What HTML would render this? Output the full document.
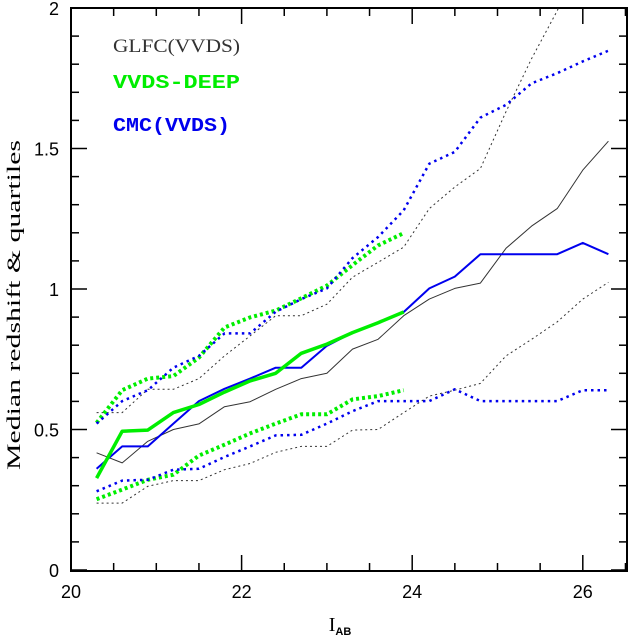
<!DOCTYPE html>
<html><head><meta charset="utf-8"><style>
html,body{margin:0;padding:0;background:#fff;}
svg{display:block;}
text{font-family:"Liberation Sans",sans-serif;}
</style></head><body>
<svg id="chart" width="636" height="638" viewBox="0 0 636 638">
<defs><clipPath id="plotclip"><rect x="71" y="8" width="556" height="563"/></clipPath></defs>
<g id="axes"></g>
<g id="series" clip-path="url(#plotclip)"></g>
<g>
<text x="113" y="52" font-size="19" fill="#333" textLength="127" lengthAdjust="spacingAndGlyphs" style="font-family:'Liberation Serif',serif">GLFC(VVDS)</text>
<text x="113" y="88" font-size="19" font-weight="bold" fill="#00ee00" textLength="127" lengthAdjust="spacingAndGlyphs" style="font-family:'Liberation Mono',monospace">VVDS-DEEP</text>
<text x="113" y="131" font-size="19" font-weight="bold" fill="#0000ee" textLength="117" lengthAdjust="spacingAndGlyphs" style="font-family:'Liberation Mono',monospace">CMC(VVDS)</text>
</g>
<text transform="translate(20,305) rotate(-90)" text-anchor="middle" font-size="19" textLength="330" lengthAdjust="spacingAndGlyphs" style="font-family:'Liberation Serif',serif">Median redshift &amp; quartiles</text>
<text x="340" y="631" text-anchor="middle" font-size="20" style="font-family:'Liberation Serif',serif">I<tspan font-size="11" font-weight="bold" dy="4" style="font-family:'Liberation Sans',sans-serif">AB</tspan></text>
</svg>
<script>
const mags = [20.3,20.6,20.9,21.2,21.5,21.8,22.1,22.4,22.7,23.0,23.3,23.6,23.9,24.2,24.5,24.8,25.1,25.4,25.7,26.0,26.3];
const glfcMedian = [0.417,0.381,0.458,0.5,0.52,0.581,0.599,0.643,0.681,0.7,0.786,0.821,0.905,0.964,1.002,1.021,1.145,1.224,1.286,1.423,1.526];
const glfcUpper = [0.56,0.56,0.643,0.643,0.681,0.762,0.833,0.905,0.905,0.946,1.042,1.095,1.149,1.286,1.363,1.429,1.631,1.82,1.99,2.2,2.4];
const glfcLower = [0.238,0.238,0.298,0.318,0.318,0.357,0.379,0.419,0.44,0.44,0.498,0.5,0.56,0.619,0.64,0.664,0.762,0.821,0.883,0.964,1.024];
const deepMags = [20.3,20.6,20.9,21.2,21.5,21.8,22.1,22.4,22.7,23.0,23.3,23.6,23.9];
const deepMedian = [0.327,0.494,0.498,0.56,0.589,0.633,0.673,0.7,0.771,0.804,0.845,0.88,0.918];
const deepUpper = [0.524,0.64,0.681,0.69,0.756,0.863,0.899,0.923,0.967,1.012,1.085,1.155,1.199];
const deepLower = [0.252,0.286,0.321,0.339,0.407,0.446,0.486,0.521,0.554,0.554,0.607,0.619,0.64];
const cmcMedian = [0.36,0.44,0.44,0.521,0.601,0.645,0.681,0.72,0.72,0.798,0.845,0.88,0.918,1.002,1.044,1.124,1.124,1.124,1.124,1.164,1.124];
const cmcUpper = [0.521,0.601,0.64,0.72,0.762,0.842,0.842,0.919,0.964,1.002,1.11,1.185,1.28,1.446,1.488,1.61,1.655,1.732,1.768,1.81,1.848];
const cmcLower = [0.28,0.318,0.321,0.357,0.36,0.402,0.44,0.479,0.481,0.521,0.565,0.601,0.601,0.601,0.643,0.601,0.601,0.601,0.601,0.64,0.64];
const xTickLabels = ["20","22","24","26"];
const yTickLabels = ["0","0.5","1","1.5","2"];

const NS = "http://www.w3.org/2000/svg";
const X0 = 71, XS = 85.3, Y0 = 570, YS = 281;
function xs(v){ return X0 + (v - 20) * XS; }
function ys(v){ return Y0 - v * YS; }
function mk(tag, attrs, parent){ const e = document.createElementNS(NS, tag); for (const k in attrs) e.setAttribute(k, attrs[k]); parent.appendChild(e); return e; }

const axes = document.getElementById("axes");
const frame = mk("rect", {x:71, y:8, width:556, height:563, fill:"none", stroke:"#000", "stroke-width":2}, axes);


for (let i = 0; i <= 13; i++) {
  const v = 20 + i * 0.5, x = xs(v), major = (i % 4 === 0);
  const L = major ? 16 : 8;
  const t1 = mk("line", {x1:x, y1:571, x2:x, y2:571 - L, stroke:"#000", "stroke-width":1.5}, axes);
  
  
  const t2 = mk("line", {x1:x, y1:8, x2:x, y2:8 + L, stroke:"#000", "stroke-width":1.5}, axes);
  
  
}
xTickLabels.forEach(function(s){
  const t = mk("text", {x:xs(parseFloat(s)), y:598, "text-anchor":"middle", "font-size":18}, axes);
  t.textContent = s;
  
  
});
for (let i = 0; i <= 20; i++) {
  const v = i * 0.1, y = ys(v), major = (i % 5 === 0);
  const L = major ? 16 : 8;
  const t1 = mk("line", {x1:71, y1:y, x2:71 + L, y2:y, stroke:"#000", "stroke-width":1.5}, axes);
  
  
  const t2 = mk("line", {x1:627, y1:y, x2:627 - L, y2:y, stroke:"#000", "stroke-width":1.5}, axes);
  
  
}
yTickLabels.forEach(function(s){
  const t = mk("text", {x:59, y:ys(parseFloat(s)) + 7, "text-anchor":"end", "font-size":18}, axes);
  t.textContent = s;
  
  
});

const sg = document.getElementById("series");
function line(xv, yv, color, width, dash, name){
  const pts = xv.map(function(x, i){ return xs(x).toFixed(1) + "," + ys(yv[i]).toFixed(1); }).join(" ");
  const attrs = {points:pts, fill:"none", stroke:color, "stroke-width":width, "stroke-linejoin":"round"};
  if (dash) attrs["stroke-dasharray"] = dash;
  const p = mk("polyline", attrs, sg);
  
  
}
line(mags, glfcUpper, "#333", 1, "2,3", "glfc-upper-quartile");
line(mags, glfcLower, "#333", 1, "2,3", "glfc-lower-quartile");
line(mags, glfcMedian, "#333", 1, null, "glfc-median");
line(deepMags, deepUpper, "#00ee00", 4, "3,3", "vvds-deep-upper-quartile");
line(deepMags, deepLower, "#00ee00", 4, "3,3", "vvds-deep-lower-quartile");
line(mags, cmcUpper, "#0000ee", 2.5, "2.5,4", "cmc-upper-quartile");
line(mags, cmcLower, "#0000ee", 2.5, "2.5,4", "cmc-lower-quartile");
line(mags, cmcMedian, "#0000ee", 2, null, "cmc-median");
line(deepMags, deepMedian, "#00ee00", 3.5, null, "vvds-deep-median");
</script>
</body></html>
